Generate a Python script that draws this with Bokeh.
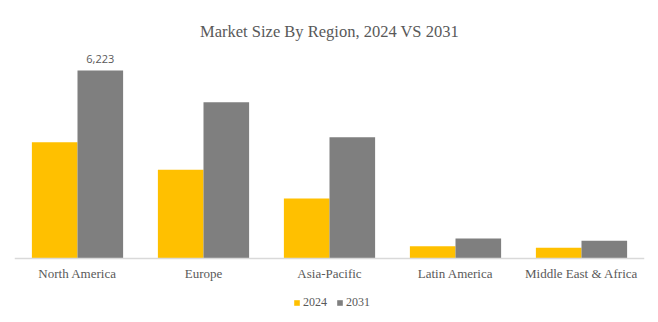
from bokeh.plotting import figure
from bokeh.models import ColumnDataSource, FactorRange, Range1d, Legend, LegendItem, Span
from bokeh.transform import dodge
from bokeh.core.properties import value
from bokeh.embed import file_html
from bokeh.resources import INLINE

regions = ["North America", "Europe", "Asia-Pacific", "Latin America", "Middle East & Africa"]
values_2024 = [3850, 2936, 1986, 408, 353]
values_2031 = [6223, 5174, 4015, 662, 585]
labels_2031 = ["6,223", "", "", "", ""]
baseline = [0, 0, 0, 0, 0]

src = ColumnDataSource(dict(region=regions, v2024=values_2024, v2031=values_2031,
                            lab=labels_2031, base=baseline))

p = figure(frame_width=630, frame_height=277, x_range=FactorRange(*regions), y_range=Range1d(-2118, 7051),
           output_backend="svg", toolbar_location=None,
           min_border_left=14, min_border_right=14, min_border_top=45, min_border_bottom=0)

p.title.text = "Market Size By Region, 2024 VS 2031"
p.title.align = "center"
p.title.text_font = "Liberation Serif"
p.title.text_font_size = "16.5px"
p.title.text_font_style = "normal"
p.title.text_color = "#595959"

r1 = p.vbar(x=dodge("region", -0.181, range=p.x_range), top="v2024", width=0.362, source=src,
            fill_color="#FFC000", line_color=None)
r2 = p.vbar(x=dodge("region", 0.181, range=p.x_range), top="v2031", width=0.362, source=src,
            fill_color="#7F7F7F", line_color=None)

# data label
p.text(x=dodge("region", 0.181, range=p.x_range), y="v2031", text="lab", source=src,
       text_align="center", text_baseline="bottom", y_offset=-8,
       text_font=value("Open Sans"), text_font_size="11px", text_color="#595959")

# category axis: baseline and labels
p.add_layout(Span(location=0, dimension="width", line_color="#D9D9D9", line_width=1.5))
p.text(x="region", y="base", text="region", source=src,
       text_align="center", text_baseline="middle", y_offset=15,
       text_font=value("Liberation Serif"), text_font_size="13px", text_color="#595959")

p.xaxis.visible = False
p.yaxis.visible = False
p.xgrid.visible = False
p.ygrid.visible = False
p.outline_line_color = None

legend = Legend(items=[LegendItem(label="2024", renderers=[r1]), LegendItem(label="2031", renderers=[r2])],
                orientation="horizontal", location=(279, 12),
                label_text_font="Liberation Serif", label_text_font_size="12px", label_text_color="#595959",
                glyph_width=7, glyph_height=7, label_height=12, label_standoff=3, spacing=9,
                border_line_color=None, background_fill_alpha=0, padding=0, margin=0)
p.add_layout(legend)

open("out.html", "w").write(file_html(p, INLINE))
